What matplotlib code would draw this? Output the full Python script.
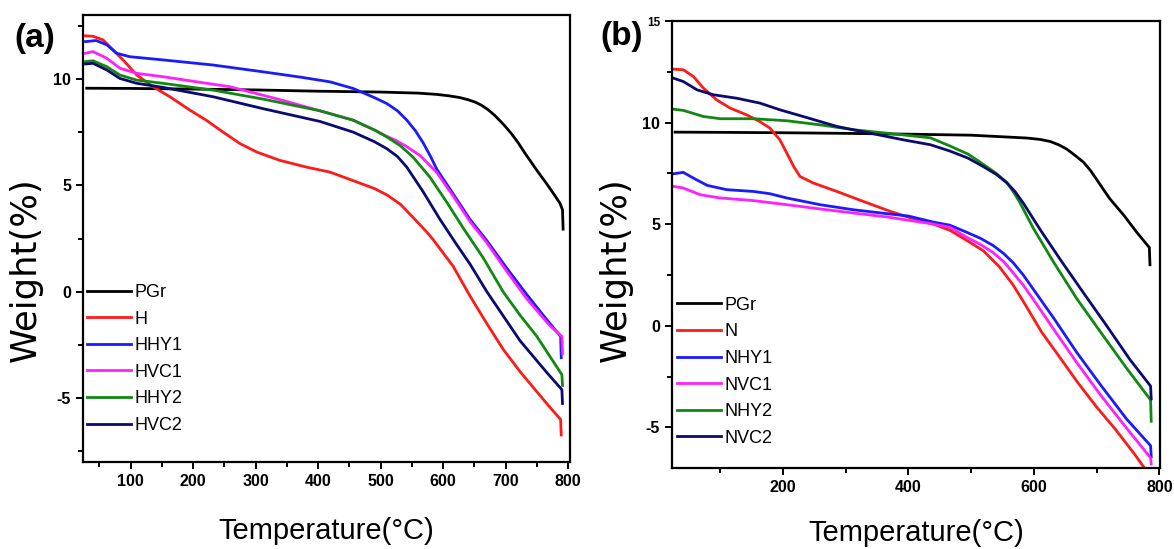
import numpy as np
import matplotlib
matplotlib.use("Agg")
import matplotlib.pyplot as plt
from matplotlib.ticker import MultipleLocator

plt.rcParams['font.family'] = ['Liberation Sans', 'DejaVu Sans']
plt.rcParams['axes.unicode_minus'] = False

## TGA curves, panel (a)
pgr_a_x = [30, 100, 200, 300, 400, 500, 560, 590, 610, 627, 640, 652, 662, 672, 682, 692, 700, 710, 720, 730,
           750, 765, 778, 787, 791, 792]
pgr_a_y = [9.56, 9.55, 9.52, 9.48, 9.42, 9.38, 9.33, 9.27, 9.2, 9.12, 9.02, 8.9, 8.75, 8.55, 8.3, 8.0, 7.75, 7.4,
           7.0, 6.55, 5.7, 5.1, 4.55, 4.15, 3.85, 2.94]

h_x = [28, 40, 56, 72, 88, 110, 136, 163, 195, 221, 248, 275, 302, 339, 382, 419, 456, 490, 510, 532, 552, 574,
       584, 616, 643, 670, 696, 723, 750, 770, 788, 789]
h_y = [12.02, 12.0, 11.83, 11.36, 10.89, 10.18, 9.63, 9.16, 8.53, 8.06, 7.5, 6.96, 6.56, 6.17, 5.85, 5.62, 5.22,
       4.85, 4.55, 4.1, 3.49, 2.8, 2.45, 1.2, -0.2, -1.5, -2.7, -3.75, -4.7, -5.4, -6.0, -6.73]

hhy1_x = [28, 45, 62, 78, 99, 152, 232, 312, 372, 419, 456, 490, 510, 527, 542, 556, 568, 580, 590, 616, 643, 670,
          702, 733, 760, 788, 789]
hhy1_y = [11.75, 11.8, 11.6, 11.2, 11.04, 10.89, 10.65, 10.33, 10.08, 9.86, 9.55, 9.12, 8.84, 8.5, 8.06, 7.55,
          7.0, 6.35, 5.75, 4.6, 3.4, 2.4, 1.1, -0.1, -1.1, -2.1, -3.1]

hvc1_x = [28, 40, 62, 83, 110, 152, 206, 259, 342, 403, 456, 490, 510, 525, 540, 563, 590, 616, 643, 670, 696, 733,
          771, 790, 791]
hvc1_y = [11.2, 11.28, 10.97, 10.5, 10.26, 10.1, 9.86, 9.63, 9.0, 8.5, 8.06, 7.6, 7.3, 7.1, 6.85, 6.4, 5.6, 4.5,
          3.3, 2.3, 1.2, -0.3, -1.6, -2.1, -2.9]

hhy2_x = [28, 40, 62, 83, 110, 152, 232, 312, 403, 456, 490, 510, 532, 552, 579, 606, 632, 664, 696, 723, 750, 790,
          791]
hhy2_y = [10.81, 10.85, 10.57, 10.18, 9.94, 9.79, 9.47, 9.05, 8.5, 8.06, 7.6, 7.27, 6.85, 6.32, 5.38, 4.2, 3.0,
          1.6, 0.0, -1.1, -2.1, -3.9, -4.4]

hvc2_x = [28, 40, 62, 83, 110, 152, 232, 312, 403, 456, 490, 510, 527, 542, 568, 595, 622, 643, 670, 700, 723, 766,
          790, 791]
hvc2_y = [10.7, 10.73, 10.42, 10.02, 9.79, 9.6, 9.16, 8.6, 8.0, 7.5, 7.05, 6.72, 6.35, 5.85, 4.7, 3.4, 2.2, 1.3,
          0.0, -1.3, -2.3, -3.8, -4.6, -5.25]

## TGA curves, panel (b)
pgr_b_x = [28, 100, 200, 300, 400, 500, 589, 610, 626, 640, 652, 665, 679, 690, 700, 711, 721, 732, 743, 764, 784,
           785]
pgr_b_y = [9.53, 9.52, 9.5, 9.47, 9.43, 9.38, 9.24, 9.17, 9.07, 8.9, 8.7, 8.4, 8.05, 7.65, 7.2, 6.7, 6.25, 5.85,
           5.45, 4.6, 3.85, 3.0]

n_x = [25, 41, 57, 73, 94, 116, 142, 163, 179, 195, 206, 217, 227, 248, 286, 328, 371, 403, 440, 466, 493, 519,
       545, 567, 585, 612, 640, 670, 700, 730, 760, 775]
n_y = [12.63, 12.6, 12.27, 11.7, 11.12, 10.71, 10.38, 10.05, 9.73, 9.15, 8.5, 7.84, 7.35, 7.03, 6.61, 6.12, 5.63,
       5.31, 5.0, 4.7, 4.2, 3.7, 2.9, 2.0, 1.1, -0.3, -1.5, -2.8, -4.0, -5.1, -6.3, -6.95]

nhy1_x = [25, 41, 57, 79, 110, 153, 179, 206, 259, 312, 365, 400, 440, 466, 493, 515, 535, 552, 567, 583, 599, 631,
          668, 706, 748, 786, 787]
nhy1_y = [7.48, 7.55, 7.27, 6.91, 6.7, 6.61, 6.5, 6.29, 5.96, 5.71, 5.52, 5.4, 5.1, 4.95, 4.6, 4.3, 3.95, 3.55,
          3.1, 2.5, 1.8, 0.4, -1.3, -2.9, -4.6, -5.9, -6.45]

nvc1_x = [25, 41, 68, 100, 153, 206, 259, 312, 365, 435, 466, 493, 515, 535, 552, 567, 583, 599, 631, 668, 706,
          748, 786, 787]
nvc1_y = [6.86, 6.78, 6.45, 6.29, 6.16, 5.96, 5.75, 5.55, 5.36, 5.03, 4.85, 4.35, 4.0, 3.6, 3.15, 2.6, 2.0, 1.3,
          -0.15, -1.8, -3.4, -5.05, -6.5, -6.8]

nhy2_x = [25, 41, 73, 100, 153, 206, 259, 312, 365, 435, 466, 495, 519, 540, 557, 567, 577, 599, 631, 668, 706,
          748, 786, 787]
nhy2_y = [10.66, 10.6, 10.3, 10.19, 10.19, 10.09, 9.89, 9.65, 9.48, 9.25, 8.85, 8.45, 7.95, 7.5, 7.05, 6.6, 6.1,
          4.8, 3.15, 1.35, -0.3, -2.1, -3.65, -4.7]

nvc2_x = [25, 41, 63, 89, 126, 163, 195, 232, 286, 339, 392, 435, 466, 495, 519, 540, 557, 570, 583, 610, 642, 679,
          716, 753, 786, 787]
nvc2_y = [12.19, 12.02, 11.61, 11.37, 11.2, 10.96, 10.63, 10.3, 9.81, 9.48, 9.15, 8.91, 8.6, 8.25, 7.84, 7.45,
          7.03, 6.6, 6.04, 4.73, 3.26, 1.62, 0.0, -1.66, -2.97, -3.6]

colors = ['black', '#ff1a1a', '#1a1aff', '#ff20ff', '#118811', '#0a0a70']
labels_a = ['PGr', 'H', 'HHY1', 'HVC1', 'HHY2', 'HVC2']
labels_b = ['PGr', 'N', 'NHY1', 'NVC1', 'NHY2', 'NVC2']

series_a = [(pgr_a_x, pgr_a_y), (h_x, h_y), (hhy1_x, hhy1_y), (hvc1_x, hvc1_y), (hhy2_x, hhy2_y), (hvc2_x, hvc2_y)]
series_b = [(pgr_b_x, pgr_b_y), (n_x, n_y), (nhy1_x, nhy1_y), (nvc1_x, nvc1_y), (nhy2_x, nhy2_y), (nvc2_x, nvc2_y)]


def style_axes(ax):
    for s in ax.spines.values():
        s.set_linewidth(1.6)
    ax.tick_params(which='both', direction='out', top=False, right=False, width=1.4)
    ax.tick_params(which='major', length=5, pad=3.5, labelsize=11.5)
    ax.tick_params(which='minor', length=3.5)
    for lab in ax.get_xticklabels() + ax.get_yticklabels():
        lab.set_fontweight('bold')


fig = plt.figure(figsize=(11.74, 5.49), dpi=100)
ax1 = fig.add_axes([83/1174, 1 - 462/549, 487/1174, 447/549])
ax2 = fig.add_axes([672/1174, 1 - 468/549, 488/1174, 447/549])

for (x, y), c, lab in zip(series_a, colors, labels_a):
    ax1.plot(x, y, color=c, lw=2.0, label=lab, solid_joinstyle='round')
for (x, y), c, lab in zip(series_b, colors, labels_b):
    ax2.plot(x, y, color=c, lw=2.0, label=lab, solid_joinstyle='round')

# panel (a) axes
ax1.set_xlim(24, 803)
ax1.set_ylim(-8, 13)
ax1.set_xticks([100, 200, 300, 400, 500, 600, 700, 800])
ax1.xaxis.set_minor_locator(MultipleLocator(100, offset=50))
ax1.set_yticks([-5, 0, 5, 10])
ax1.yaxis.set_minor_locator(MultipleLocator(5, offset=2.5))

# panel (b) axes
ax2.set_xlim(23, 801)
ax2.set_ylim(-7, 15)
ax2.set_xticks([200, 400, 600, 800])
ax2.xaxis.set_minor_locator(MultipleLocator(200, offset=100))
ax2.set_yticks([-5, 0, 5, 10, 15])
ax2.yaxis.set_minor_locator(MultipleLocator(5, offset=2.5))

for ax in (ax1, ax2):
    style_axes(ax)
    ax.set_xlabel('Temperature(°C)', fontsize=21)
    ax.set_ylabel('Weight(%)', fontsize=25.5, family=['DejaVu Sans'])

ax2.get_yticklabels()[-1].set_fontsize(8.5)

ax1.xaxis.set_label_coords(0.5, -0.123)
ax2.xaxis.set_label_coords(0.5, -0.114)
ax1.yaxis.set_label_coords(-0.082, 0.43)
ax2.yaxis.set_label_coords(-0.08, 0.443)

ax1.legend(loc='upper left', bbox_to_anchor=(0.008, 0.398), frameon=False, fontsize=13,
           handlelength=2.45, handletextpad=0.2, labelspacing=0.53, borderpad=0, borderaxespad=0)
ax2.legend(loc='upper left', bbox_to_anchor=(0.01, 0.383), frameon=False, fontsize=13,
           handlelength=2.45, handletextpad=0.2, labelspacing=0.53, borderpad=0, borderaxespad=0)

fig.text(35/1174, 1 - 39/549, '(a)', fontsize=24, fontweight='bold', ha='center', va='center')
fig.text(622/1174, 1 - 37/549, '(b)', fontsize=24, fontweight='bold', ha='center', va='center')

fig.savefig('out.png', dpi=100)
